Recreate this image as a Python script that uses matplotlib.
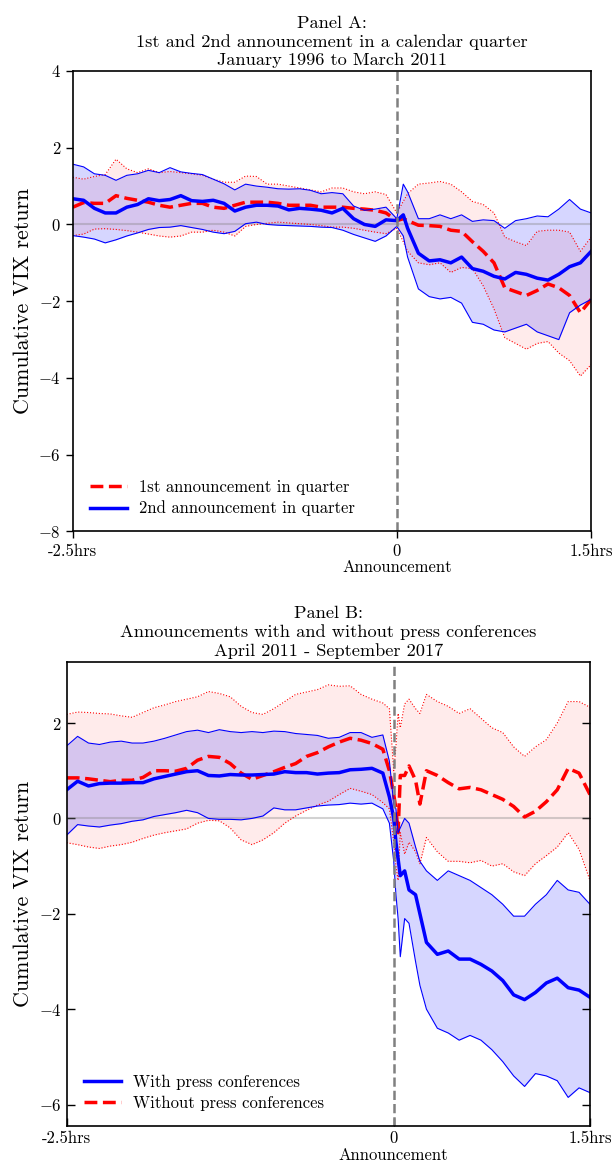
import numpy as np
import matplotlib
matplotlib.use('Agg')
from matplotlib import pyplot as plt

plt.rcParams['font.family'] = 'serif'
plt.rcParams['font.serif'] = ['cmr10']
plt.rcParams['mathtext.fontset'] = 'cm'
plt.rcParams['axes.formatter.use_mathtext'] = True
plt.rcParams['axes.unicode_minus'] = True

# minutes relative to the announcement
a_time = list(range(-150, 0, 5)) + [0, 3] + list(range(5, 95, 5))
b_time = list(range(-150, 0, 5)) + [-2, 0, 1, 2, 3, 5, 7, 10, 12, 15] + list(range(20, 95, 5))

# Panel A: 1st announcement in quarter (red)
a_first_mean = [0.45, 0.57, 0.55, 0.55, 0.75, 0.68, 0.63, 0.58, 0.5, 0.45, 0.5, 0.55, 0.55, 0.45, 0.42,
                0.5, 0.58, 0.58, 0.58, 0.55, 0.5, 0.5, 0.5, 0.45, 0.45, 0.45, 0.42, 0.40, 0.37, 0.3,
                0.1, 0.15,
                0.1, -0.02, -0.03, -0.05, -0.15, -0.18, -0.45, -0.7, -1.0, -1.65, -1.75, -1.85, -1.72,
                -1.55, -1.65, -1.85, -2.3, -1.95]
a_first_hi = [1.23, 1.18, 1.25, 1.3, 1.7, 1.45, 1.35, 1.45, 1.35, 1.38, 1.35, 1.32, 1.28, 1.18, 1.1,
              1.1, 1.26, 1.25, 1.05, 1.05, 1.0, 0.95, 0.9, 0.85, 0.95, 0.95, 0.85, 0.8, 0.85, 0.78,
              0.3, 0.6,
              0.8, 1.05, 1.08, 1.12, 1.05, 0.85, 0.6, 0.52, 0.3, -0.33, -0.45, -0.55, -0.18,
              -0.15, -0.15, -0.2, -0.7, -0.33]
a_first_lo = [-0.29, -0.25, -0.12, -0.11, -0.13, -0.16, -0.2, -0.25, -0.3, -0.33, -0.3, -0.2, -0.2, -0.15, -0.2,
              -0.3, -0.05, 0.0, 0.03, 0.06, 0.04, 0.02, 0.0, -0.03, -0.07, -0.07, -0.1, -0.15, -0.2, -0.24,
              -0.1, -0.45,
              -0.7, -1.0, -1.05, -1.0, -1.25, -1.12, -1.15, -1.6, -2.2, -2.95, -3.1, -3.25, -3.1,
              -3.05, -3.35, -3.55, -3.95, -3.65]

# Panel A: 2nd announcement in quarter (blue)
a_second_mean = [0.67, 0.63, 0.42, 0.30, 0.30, 0.45, 0.52, 0.67, 0.62, 0.65, 0.75, 0.62, 0.60, 0.63, 0.55,
                 0.35, 0.45, 0.50, 0.50, 0.48, 0.38, 0.42, 0.40, 0.37, 0.30, 0.42, 0.15, 0.0, -0.05, 0.12,
                 0.1, 0.25,
                 -0.1, -0.75, -0.95, -0.92, -1.0, -0.85, -1.15, -1.22, -1.35, -1.42, -1.25, -1.3, -1.4,
                 -1.45, -1.3, -1.1, -1.0, -0.7]
a_second_hi = [1.57, 1.5, 1.32, 1.28, 1.15, 1.28, 1.32, 1.41, 1.35, 1.48, 1.37, 1.33, 1.3, 1.18, 1.06,
               0.9, 1.05, 1.0, 0.97, 0.93, 0.92, 0.93, 0.89, 0.80, 0.83, 0.80, 0.48, 0.37, 0.40, 0.45,
               0.15, 1.05,
               0.85, 0.15, 0.15, 0.25, 0.15, 0.25, 0.08, 0.12, 0.1, -0.1, 0.1, 0.15, 0.22,
               0.2, 0.4, 0.65, 0.4, 0.3]
a_second_lo = [-0.29, -0.33, -0.38, -0.48, -0.40, -0.30, -0.22, -0.13, -0.08, -0.07, -0.03, -0.08, -0.13, -0.2, -0.24,
               -0.18, 0.02, 0.06, 0.0, -0.02, -0.03, -0.04, -0.05, -0.07, -0.08, -0.15, -0.26, -0.35, -0.44, -0.3,
               -0.05, -0.3,
               -0.85, -1.68, -1.88, -1.94, -1.9, -2.05, -2.55, -2.6, -2.75, -2.8, -2.7, -2.6, -2.8,
               -2.9, -3.0, -2.3, -2.1, -1.95]

# Panel B: with press conferences (blue)
b_with_mean = [0.6, 0.78, 0.68, 0.73, 0.74, 0.74, 0.75, 0.75, 0.83, 0.88, 0.93, 0.98, 1.0, 0.9, 0.89,
               0.92, 0.91, 0.91, 0.92, 0.93, 0.98, 0.96, 0.96, 0.93, 0.95, 0.96, 1.02, 1.03, 1.05, 0.95,
               0.45, 0.0, -0.5, -0.85, -1.2, -1.1, -1.5, -1.6, -2.0, -2.6,
               -2.85, -2.78, -2.95, -2.95, -3.06, -3.2, -3.4, -3.7, -3.8, -3.65, -3.45, -3.35, -3.55, -3.6, -3.75]
b_with_hi = [1.52, 1.72, 1.58, 1.55, 1.6, 1.62, 1.58, 1.58, 1.62, 1.68, 1.75, 1.82, 1.85, 1.8, 1.86,
             1.82, 1.8, 1.82, 1.8, 1.83, 1.82, 1.78, 1.76, 1.74, 1.68, 1.7, 1.8, 1.8, 1.7, 1.75,
             1.2, 0.3, 0.2, -0.3, -0.2, 0.0, -0.1, -0.6, -0.9, -1.1,
             -1.3, -1.1, -1.2, -1.3, -1.45, -1.6, -1.8, -2.05, -2.05, -1.8, -1.6, -1.3, -1.5, -1.55, -1.8]
b_with_lo = [-0.35, -0.13, -0.16, -0.18, -0.14, -0.11, -0.06, -0.03, 0.04, 0.08, 0.12, 0.17, 0.12, 0.0, -0.02,
             -0.02, -0.03, 0.0, 0.05, 0.22, 0.18, 0.18, 0.22, 0.26, 0.28, 0.29, 0.32, 0.3, 0.32, 0.2,
             -0.1, -0.9, -1.6, -2.1, -2.9, -2.1, -2.2, -3.0, -3.5, -4.0,
             -4.4, -4.5, -4.65, -4.55, -4.65, -4.85, -5.1, -5.4, -5.62, -5.35, -5.4, -5.5, -5.85, -5.65, -5.75]

# Panel B: without press conferences (red)
b_without_mean = [0.85, 0.85, 0.83, 0.8, 0.77, 0.8, 0.8, 0.86, 1.0, 1.0, 0.99, 1.05, 1.22, 1.3, 1.28,
                  1.15, 0.95, 0.82, 0.9, 0.98, 1.07, 1.15, 1.3, 1.38, 1.5, 1.6, 1.68, 1.64, 1.57, 1.45,
                  1.0, 0.5, 0.2, -0.3, 0.9, 0.9, 1.1, 0.8, 0.3, 1.0,
                  0.9, 0.75, 0.62, 0.65, 0.6, 0.5, 0.4, 0.25, 0.03, 0.15, 0.35, 0.6, 1.05, 0.95, 0.5]
b_without_hi = [2.18, 2.23, 2.22, 2.2, 2.19, 2.15, 2.12, 2.22, 2.32, 2.38, 2.45, 2.5, 2.55, 2.66, 2.62,
                2.55, 2.35, 2.22, 2.18, 2.3, 2.45, 2.6, 2.65, 2.7, 2.8, 2.77, 2.78, 2.6, 2.5, 2.42,
                2.3, 1.0, 1.5, 2.2, 1.9, 2.4, 2.5, 2.3, 2.2, 2.6,
                2.45, 2.35, 2.2, 2.3, 2.1, 1.9, 1.8, 1.5, 1.3, 1.5, 1.65, 2.0, 2.45, 2.45, 2.33]
b_without_lo = [-0.51, -0.55, -0.6, -0.63, -0.58, -0.55, -0.5, -0.42, -0.35, -0.3, -0.26, -0.22, -0.1, -0.04, -0.05,
                -0.2, -0.45, -0.55, -0.45, -0.3, -0.1, 0.05, 0.17, 0.28, 0.36, 0.5, 0.63, 0.57, 0.5, 0.33,
                0.2, -0.5, -1.0, -1.3, -0.3, -0.75, -0.5, -0.7, -0.95, -0.4,
                -0.7, -0.9, -0.9, -0.93, -0.88, -1.0, -0.95, -1.12, -1.2, -0.95, -0.78, -0.6, -0.3, -0.65, -1.3]

xtick_pos = [-150, 0, 90]
xtick_lab = ['-2.5hrs', '0', '1.5hrs']


def band(ax, t, mean, hi, lo, color, ls, label, band_ls, band_alpha):
    ax.fill_between(t, lo, hi, color=color, alpha=band_alpha, lw=0)
    ax.plot(t, hi, color=color, ls=band_ls, lw=0.8)
    ax.plot(t, lo, color=color, ls=band_ls, lw=0.8)
    line, = ax.plot(t, mean, color=color, ls=ls, lw=2.5, label=label)
    return line


def finish(ax, title):
    ax.axvline(0, color='gray', ls='--', lw=1.8)
    ax.set_xlim(-150, 90)
    ax.set_xticks(xtick_pos)
    ax.set_xticklabels(xtick_lab)
    # label sits under the announcement time, not the axes centre
    ax.set_xlabel('Announcement', fontsize=12, labelpad=1, x=0.625)
    ax.set_ylabel('Cumulative VIX return', fontsize=15.8, labelpad=4)
    ax.set_title(title, fontsize=13.2, pad=4, linespacing=1.25)
    for s in ax.spines.values():
        s.set_linewidth(1.2)


fig = plt.figure(figsize=(6.12, 11.63), dpi=100)

# Panel A
ax1 = fig.add_axes([0.119, 0.543, 0.847, 0.396])
ax1.axhline(0, color='gray', alpha=0.35, lw=1.5)
l1 = band(ax1, a_time, a_first_mean, a_first_hi, a_first_lo, 'red', '--',
          '1st announcement in quarter', ':', 0.08)
l2 = band(ax1, a_time, a_second_mean, a_second_hi, a_second_lo, 'blue', '-',
          '2nd announcement in quarter', '-', 0.16)
ax1.set_ylim(-8, 4)
ax1.set_yticks([-8, -6, -4, -2, 0, 2, 4])
ax1.tick_params(direction='out', length=5, width=1, labelsize=12, right=False, top=False)
finish(ax1, 'Panel A:\n1st and 2nd announcement in a calendar quarter\nJanuary 1996 to March 2011')
ax1.legend(handles=[l1, l2], loc='lower left', frameon=False, fontsize=12,
           bbox_to_anchor=(0.005, 0.0), handlelength=2.2, handletextpad=0.7, labelspacing=0.35)

# Panel B
ax2 = fig.add_axes([0.109, 0.0318, 0.855, 0.399])
ax2.axhline(0, color='gray', alpha=0.35, lw=1.5)
l3 = band(ax2, b_time, b_without_mean, b_without_hi, b_without_lo, 'red', '--',
          'Without press conferences', ':', 0.08)
l4 = band(ax2, b_time, b_with_mean, b_with_hi, b_with_lo, 'blue', '-',
          'With press conferences', '-', 0.16)
ax2.set_ylim(-6.45, 3.28)
ax2.set_yticks([-6, -4, -2, 0, 2])
ax2.tick_params(direction='in', length=6, width=1, labelsize=12, right=True, top=False)
finish(ax2, 'Panel B:\nAnnouncements with and without press conferences\nApril 2011 - September 2017')
ax2.legend(handles=[l4, l3], loc='lower left', frameon=False, fontsize=12,
           bbox_to_anchor=(0.005, 0.0), handlelength=2.2, handletextpad=0.7, labelspacing=0.35)

fig.savefig('out.png', dpi=100)
